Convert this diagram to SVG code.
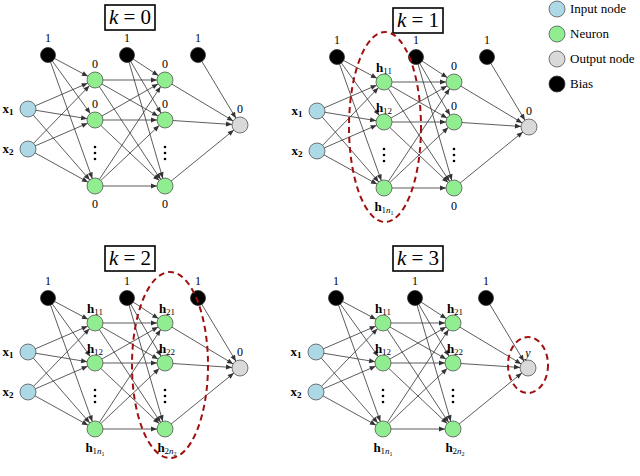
<svg xmlns="http://www.w3.org/2000/svg" xmlns:xlink="http://www.w3.org/1999/xlink" width="640" height="476" viewBox="0 0 640 476" font-family="'Liberation Serif', 'DejaVu Serif', serif">
<style>
.e{stroke:#333;stroke-width:0.8;fill:none;marker-end:url(#a)}
.in{fill:#add8e6;stroke:#555;stroke-width:0.8}
.ne{fill:#90ee90;stroke:#555;stroke-width:0.8}
.ou{fill:#d9d9d9;stroke:#555;stroke-width:0.8}
.bi{fill:#000;stroke:#333;stroke-width:0.8}
text{font-family:'Liberation Serif','DejaVu Serif',serif;font-size:13px;fill:#000}
.s{font-size:12px;text-anchor:middle}
.b{font-weight:bold;text-anchor:middle}
.t{font-size:21px;text-anchor:middle}
.box{fill:#fff;stroke:#000;stroke-width:1.6}
.el{fill:none;stroke:#a01010;stroke-width:2;stroke-dasharray:6,4}
.dot{fill:#000}
</style>
<defs>
<marker id="a" viewBox="-15 -5 25 10" refX="8" refY="0" markerWidth="25" markerHeight="10" markerUnits="userSpaceOnUse" orient="auto"><path d="M-6,-2.5 L0,0 L-6,2.5 z" fill="#333"/></marker>
<g id="net" font-family="'Liberation Serif', serif">
<g id="connectors">
<path class="e" d="M28,109L95,80"/><path class="e" d="M28,109L95,120"/><path class="e" d="M28,109L95,186"/>
<path class="e" d="M28,149L95,80"/><path class="e" d="M28,149L95,120"/><path class="e" d="M28,149L95,186"/>
<path class="e" d="M48,55L95,80"/><path class="e" d="M48,55L95,120"/><path class="e" d="M48,55L95,186"/>
<path class="e" d="M95,80L165,80"/><path class="e" d="M95,80L165,120"/><path class="e" d="M95,80L165,186"/>
<path class="e" d="M95,120L165,80"/><path class="e" d="M95,120L165,120"/><path class="e" d="M95,120L165,186"/>
<path class="e" d="M95,186L165,80"/><path class="e" d="M95,186L165,120"/><path class="e" d="M95,186L165,186"/>
<path class="e" d="M127,55L165,80"/><path class="e" d="M127,55L165,120"/><path class="e" d="M127,55L165,186"/>
<path class="e" d="M165,80L240,125"/><path class="e" d="M165,120L240,125"/><path class="e" d="M165,186L240,125"/>
<path class="e" d="M198,55L240,125"/>
</g>
<g id="nodes">
<circle class="bi" cx="48" cy="55" r="7.5"/><circle class="bi" cx="127" cy="55" r="7.5"/><circle class="bi" cx="198" cy="55" r="7.5"/>
<circle class="in" cx="28" cy="109" r="8"/><circle class="in" cx="28" cy="149" r="8"/>
<circle class="ne" cx="95" cy="80" r="8"/><circle class="ne" cx="95" cy="120" r="8"/><circle class="ne" cx="95" cy="186" r="8"/>
<circle class="ne" cx="165" cy="80" r="8"/><circle class="ne" cx="165" cy="120" r="8"/><circle class="ne" cx="165" cy="186" r="8"/>
<circle class="ou" cx="240" cy="125" r="8"/>
<circle class="dot" cx="95" cy="147" r="1.3"/><circle class="dot" cx="95" cy="153" r="1.3"/><circle class="dot" cx="95" cy="159" r="1.3"/>
<circle class="dot" cx="165" cy="147" r="1.3"/><circle class="dot" cx="165" cy="153" r="1.3"/><circle class="dot" cx="165" cy="159" r="1.3"/>
</g>
<text class="s" x="48" y="42">1</text><text class="s" x="127" y="42">1</text><text class="s" x="198" y="42">1</text>
<text class="b" x="8" y="113">x<tspan font-size="9" dy="2">1</tspan></text>
<text class="b" x="8" y="153">x<tspan font-size="9" dy="2">2</tspan></text>
</g>
</defs>

<g id="panel-k0">
<use xlink:href="#net"/>
<rect class="box" x="105" y="5" width="50" height="25"/>
<text class="t" x="130" y="24"><tspan font-style="italic">k</tspan> = 0</text>
<text class="s" x="95" y="68">0</text><text class="s" x="95" y="108">0</text><text class="s" x="95" y="208">0</text>
<text class="s" x="165" y="68">0</text><text class="s" x="165" y="108">0</text><text class="s" x="165" y="208">0</text>
<text class="s" x="240" y="113">0</text>
</g>

<g id="panel-k1" transform="translate(289,2)">
<use xlink:href="#net"/>
<rect class="box" x="104" y="6" width="50" height="25"/>
<text class="t" x="129" y="25"><tspan font-style="italic">k</tspan> = 1</text>
<text class="b" x="95" y="70">h<tspan font-size="9" font-weight="normal" dy="2">11</tspan></text>
<text class="b" x="95" y="110">h<tspan font-size="9" font-weight="normal" dy="2">12</tspan></text>
<text class="b" x="95" y="209">h<tspan font-size="9" font-weight="normal" dy="2">1<tspan font-style="italic">n</tspan><tspan font-size="6" dy="1.5">1</tspan></tspan></text>
<text class="s" x="165" y="68">0</text><text class="s" x="165" y="108">0</text><text class="s" x="165" y="208">0</text>
<text class="s" x="240" y="113">0</text>
<ellipse class="el" cx="96" cy="125" rx="36" ry="95"/>
</g>

<g id="panel-k2" transform="translate(0,243)">
<use xlink:href="#net"/>
<rect class="box" x="105" y="3" width="50" height="25"/>
<text class="t" x="130" y="22"><tspan font-style="italic">k</tspan> = 2</text>
<text class="b" x="95" y="70">h<tspan font-size="9" font-weight="normal" dy="2">11</tspan></text>
<text class="b" x="95" y="110">h<tspan font-size="9" font-weight="normal" dy="2">12</tspan></text>
<text class="b" x="95" y="209">h<tspan font-size="9" font-weight="normal" dy="2">1<tspan font-style="italic">n</tspan><tspan font-size="6" dy="1.5">1</tspan></tspan></text>
<text class="b" x="167" y="70">h<tspan font-size="9" font-weight="normal" dy="2">21</tspan></text>
<text class="b" x="167" y="110">h<tspan font-size="9" font-weight="normal" dy="2">22</tspan></text>
<text class="b" x="167" y="209">h<tspan font-size="9" font-weight="normal" dy="2">2<tspan font-style="italic">n</tspan><tspan font-size="6" dy="1.5">2</tspan></tspan></text>
<text class="s" x="240" y="113">0</text>
<ellipse class="el" cx="170" cy="122" rx="38" ry="93"/>
</g>

<g id="panel-k3" transform="translate(288,243)">
<use xlink:href="#net"/>
<rect class="box" x="105" y="3" width="50" height="25"/>
<text class="t" x="130" y="22"><tspan font-style="italic">k</tspan> = 3</text>
<text class="b" x="95" y="70">h<tspan font-size="9" font-weight="normal" dy="2">11</tspan></text>
<text class="b" x="95" y="110">h<tspan font-size="9" font-weight="normal" dy="2">12</tspan></text>
<text class="b" x="95" y="209">h<tspan font-size="9" font-weight="normal" dy="2">1<tspan font-style="italic">n</tspan><tspan font-size="6" dy="1.5">1</tspan></tspan></text>
<text class="b" x="167" y="70">h<tspan font-size="9" font-weight="normal" dy="2">21</tspan></text>
<text class="b" x="167" y="110">h<tspan font-size="9" font-weight="normal" dy="2">22</tspan></text>
<text class="b" x="167" y="209">h<tspan font-size="9" font-weight="normal" dy="2">2<tspan font-style="italic">n</tspan><tspan font-size="6" dy="1.5">2</tspan></tspan></text>
<text class="s" x="240" y="114" font-style="italic">y</text>
<ellipse class="el" cx="240" cy="122" rx="20" ry="28"/>
</g>

<g id="legend">
<circle class="in" cx="557" cy="9" r="8"/><text x="570" y="13">Input node</text>
<circle class="ne" cx="557" cy="34" r="8"/><text x="570" y="38">Neuron</text>
<circle class="ou" cx="557" cy="59" r="8"/><text x="570" y="63">Output node</text>
<circle class="bi" cx="557" cy="84" r="8"/><text x="570" y="88">Bias</text>
</g>
</svg>
